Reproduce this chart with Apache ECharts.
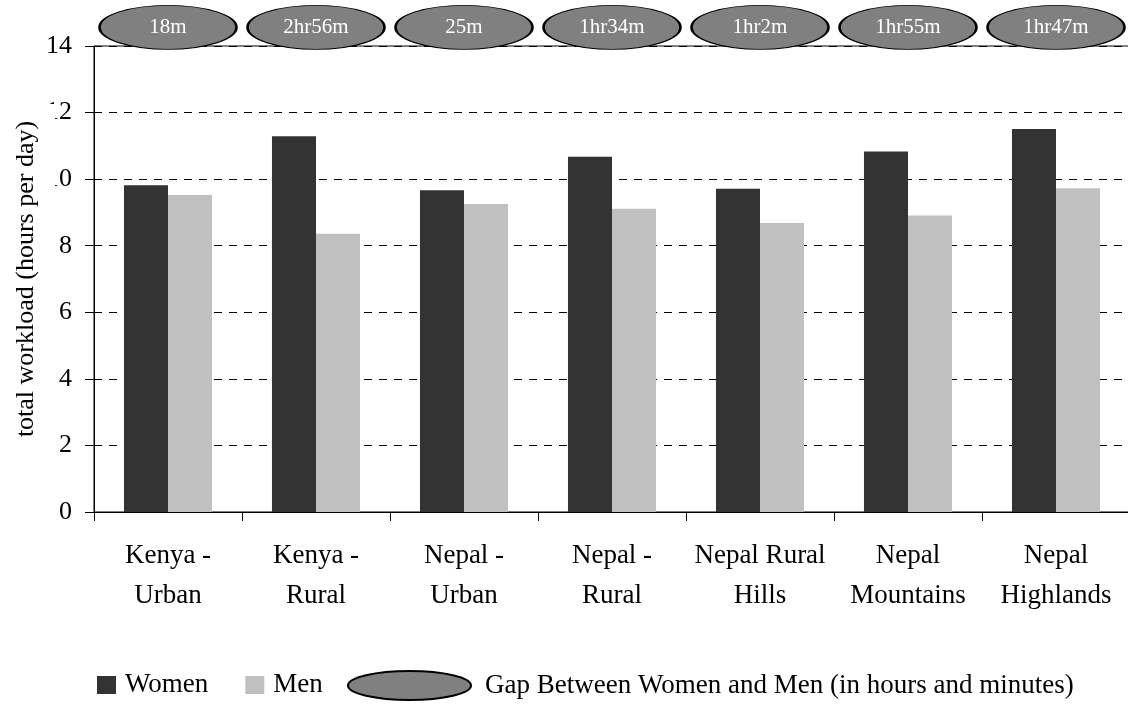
<!DOCTYPE html>
<html>
<head>
<meta charset="utf-8">
<script src="https://cdn.jsdelivr.net/npm/echarts@6/dist/echarts.min.js"></script>
<style>
  html, body { margin: 0; padding: 0; background: #fff; }
  #chart { width: 1128px; height: 704px; }
</style>
</head>
<body>
<div id="chart"></div>
<script>
const categories = ['Kenya -\nUrban', 'Kenya -\nRural', 'Nepal -\nUrban', 'Nepal -\nRural', 'Nepal Rural\nHills', 'Nepal\nMountains', 'Nepal\nHighlands'];
const women = [9.82, 11.29, 9.67, 10.67, 9.71, 10.83, 11.51];
const men = [9.52, 8.36, 9.25, 9.11, 8.68, 8.91, 9.73];
const gapLabels = ['18m', '2hr56m', '25m', '1hr34m', '1hr2m', '1hr55m', '1hr47m'];
const yMin = 0, yMax = 14, yStep = 2;
const seriesNames = ['Women', 'Men', 'Gap Between Women and Men (in hours and minutes)'];
const yTitle = 'total workload (hours per day)';

const FONT = '"Liberation Serif", "Times New Roman", serif';
const ELLIPSE_Y = yMax + 0.56;
const ELLIPSE_PATH = 'path://M0,20 A40,20 0 1,1 80,20 A40,20 0 1,1 0,20 Z';

const chart = echarts.init(document.getElementById('chart'), null, { renderer: 'canvas' });
chart.setOption({
  backgroundColor: '#fff',
  animation: false,
  textStyle: { fontFamily: FONT, color: '#000' },
  grid: {
    left: 94, right: -2, top: 46, bottom: 192,
    containLabel: false,
    outerBoundsMode: 'none',
    show: true, borderColor: '#000', borderWidth: 1, backgroundColor: 'transparent'
  },
  legend: [
    {
      data: [seriesNames[0], seriesNames[1]],
      left: 97, top: 670, padding: 0,
      icon: 'rect', itemWidth: 19, itemHeight: 18, itemGap: 37,
      textStyle: { fontFamily: FONT, fontSize: 27, color: '#000', lineHeight: 30, padding: [0, 0, 0, 4] }
    },
    {
      data: [seriesNames[2]],
      left: 347, top: 670, padding: 0,
      icon: ELLIPSE_PATH, itemWidth: 123, itemHeight: 29,
      symbolKeepAspect: false,
      textStyle: { fontFamily: FONT, fontSize: 27, color: '#000', lineHeight: 30, padding: [0, 0, 0, 9] }
    }
  ],
  xAxis: {
    type: 'category',
    data: categories,
    boundaryGap: true,
    axisLine: { show: true, lineStyle: { color: '#000', width: 1 } },
    axisTick: { show: true, length: 9, lineStyle: { color: '#000' } },
    axisLabel: { fontFamily: FONT, fontSize: 27, color: '#000', lineHeight: 40, margin: 24, interval: 0 },
    splitLine: { show: false }
  },
  yAxis: [
    {
      type: 'value',
      min: yMin, max: yMax, interval: yStep,
      axisLine: { show: true, lineStyle: { color: '#000', width: 1 } },
      axisTick: { show: true, length: 9, lineStyle: { color: '#000' } },
      axisLabel: { fontFamily: FONT, fontSize: 26, color: '#000', margin: 22 },
      splitLine: { show: true, lineStyle: { color: '#000', width: 1, type: [8, 7] } }
    },
    {
      type: 'value',
      position: 'left',
      min: yMin, max: yMax, interval: yStep,
      z: 20,
      name: yTitle,
      nameLocation: 'middle',
      nameRotate: 90,
      nameGap: 39,
      nameMoveOverlap: false,
      nameTextStyle: {
        fontFamily: FONT, fontSize: 26, color: '#000', lineHeight: 30,
        backgroundColor: '#fff', padding: [0, 17, 14, 17]
      },
      axisLine: { show: false },
      axisTick: { show: false },
      axisLabel: { show: false },
      splitLine: { show: false }
    }
  ],
  series: [
    {
      name: seriesNames[0], type: 'bar', data: women,
      barGap: '0%', barCategoryGap: '40.5%',
      itemStyle: { color: '#333333' }
    },
    {
      name: seriesNames[1], type: 'bar', data: men,
      itemStyle: { color: '#c0c0c0' }
    },
    {
      name: seriesNames[2], type: 'scatter',
      data: gapLabels.map((g, i) => ({ name: g, value: [categories[i], ELLIPSE_Y] })),
      symbol: ELLIPSE_PATH,
      symbolSize: [137, 44],
      symbolKeepAspect: false,
      clip: false,
      z: 10,
      itemStyle: { color: '#808080', borderColor: '#000', borderWidth: 1.5, opacity: 1 },
      label: {
        show: true, position: 'inside', formatter: '{b}',
        fontFamily: FONT, fontSize: 21, color: '#fff'
      },
      emphasis: { disabled: true }
    }
  ]
});
</script>
</body>
</html>
